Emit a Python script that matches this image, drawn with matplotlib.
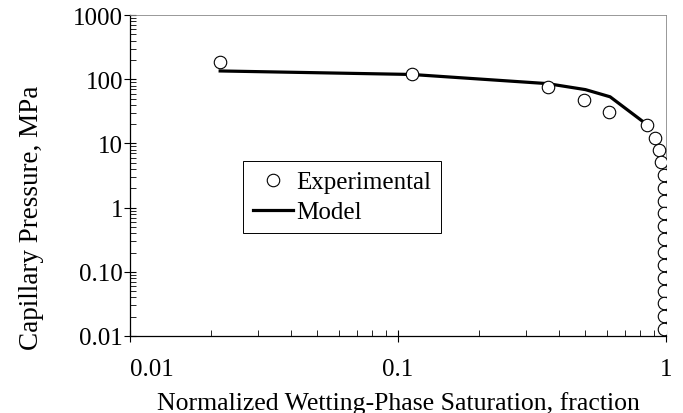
import matplotlib.pyplot as plt
import matplotlib.ticker as ticker

plt.rcParams['font.family'] = ['Liberation Serif', 'DejaVu Serif']

# experimental points (saturation fraction, capillary pressure MPa)
exp_sw = [0.0217, 0.1125, 0.361, 0.496, 0.613, 0.851, 0.912, 0.939, 0.958,
          0.986, 0.986, 0.986, 0.986, 0.986, 0.986, 0.986, 0.986, 0.986,
          0.986, 0.986, 0.986, 0.986]
exp_pc = [183, 120, 76.4, 48, 30.8, 19.4, 12.3, 7.9, 5.08,
          3.22, 2.04, 1.28, 0.815, 0.511, 0.324, 0.203, 0.129, 0.081,
          0.0508, 0.0323, 0.0203, 0.0128]

# model curve
model_sw = [0.0217, 0.1125, 0.361, 0.5, 0.618, 0.812]
model_pc = [135, 119, 85.7, 69.1, 53.4, 22.6]

xticks = [0.01, 0.1, 1]
xlabels = ['0.01', '0.1', '1']
yticks = [0.01, 0.1, 1, 10, 100, 1000]
ylabels = ['0.01', '0.10', '1', '10', '100', '1000']

fig = plt.figure(figsize=(6.83, 4.14), dpi=100)
ax = fig.add_axes([0.1903, 0.186, 0.785, 0.775])

ax.plot(model_sw, model_pc, color='black', lw=2.3, label='Model', zorder=2)
ax.plot(exp_sw, exp_pc, 'o', ms=9, mfc='white', mec='black', mew=0.8,
        label='Experimental', zorder=3)

ax.set_xscale('log')
ax.set_yscale('log')
ax.set_xlim(0.01, 1)
ax.set_ylim(0.01, 1000)

ax.set_xticks(xticks)
ax.set_xticklabels(xlabels)
ax.set_yticks(yticks)
ax.set_yticklabels(ylabels)
ax.xaxis.set_minor_locator(ticker.LogLocator(subs=range(2, 10)))
ax.yaxis.set_minor_locator(ticker.LogLocator(subs=range(2, 10)))
ax.xaxis.set_minor_formatter(ticker.NullFormatter())
ax.yaxis.set_minor_formatter(ticker.NullFormatter())

ax.tick_params(which='major', direction='inout', length=8, width=0.8,
               labelsize=18)
ax.tick_params(axis='y', which='major', pad=1)
ax.tick_params(axis='x', which='major', pad=12)
ax.tick_params(which='minor', direction='in', length=4.5, width=0.6)
# first x label sits to the right of the axis corner
ax.get_xticklabels()[0].set_horizontalalignment('left')

for s in ['left', 'bottom']:
    ax.spines[s].set_linewidth(0.9)
for s in ['top', 'right']:
    ax.spines[s].set_color('#888888')
    ax.spines[s].set_linewidth(0.6)

ax.set_xlabel('Normalized Wetting-Phase Saturation, fraction', fontsize=18.5)
ax.xaxis.set_label_coords(0.5, -0.17)
ax.set_ylabel('Capillary Pressure, MPa', fontsize=19.5)
ax.yaxis.set_label_coords(-0.16, 0.37)

handles, labels = ax.get_legend_handles_labels()
leg = ax.legend(handles[::-1], labels[::-1], loc='upper left',
                bbox_to_anchor=(0.21, 0.546), borderaxespad=0, fontsize=18,
                handlelength=1.6, handletextpad=0.15, labelspacing=0.3,
                borderpad=0.4, fancybox=False, framealpha=1,
                edgecolor='black')
leg.get_frame().set_linewidth(0.7)

plt.savefig('out.png', dpi=100)
